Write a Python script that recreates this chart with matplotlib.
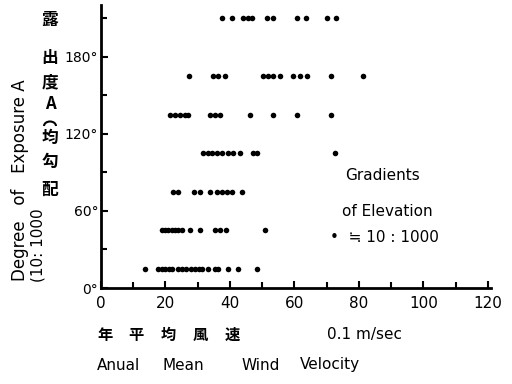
import numpy as np
import matplotlib
matplotlib.use("Agg")
import matplotlib.pyplot as plt
from matplotlib.patches import Arc
from matplotlib.ticker import MultipleLocator

plt.rcParams['font.family'] = ['DejaVu Sans', 'Noto Sans CJK JP']

# mean wind velocity (0.1 m/sec) for each exposure degree
exposure = [15, 45, 75, 105, 135, 165, 210]
velocity = [
    [13.7, 17.7, 18.9, 19.9, 21.1, 22.0, 23.9, 25.2, 26.4, 28.0, 29.2, 30.4,
     31.4, 33.2, 35.4, 36.3, 39.4, 42.5, 48.4],
    [18.9, 19.9, 20.8, 22.0, 23.0, 23.9, 25.2, 27.6, 30.7, 35.4, 37.0, 38.8,
     50.9],
    [22.4, 23.9, 28.9, 30.7, 33.9, 36.0, 37.6, 39.0, 40.6, 43.7],
    [31.8, 33.2, 34.5, 36.0, 37.6, 39.5, 41.0, 43.2, 47.2, 48.4, 72.7],
    [21.4, 23.0, 24.5, 26.0, 27.0, 33.9, 35.4, 37.0, 46.3, 53.4, 60.8, 71.4],
    [27.4, 34.8, 36.3, 38.5, 50.3, 51.9, 53.4, 55.6, 59.5, 61.8, 64.0, 71.4,
     81.4],
    [37.5, 40.6, 44.0, 45.6, 46.9, 51.5, 53.4, 60.8, 63.7, 70.0, 73.0],
]
xticks = [0, 20, 40, 60, 80, 100, 120]
yticks = [0, 60, 120, 180]
ytick_labels = ["0°", "60°", "120°", "180°"]

fig = plt.figure(figsize=(5.12, 3.84), dpi=100)
ax = fig.add_axes([101 / 512, 1 - 288 / 384, 390 / 512, 283 / 384])

for deg, vals in zip(exposure, velocity):
    ax.scatter(vals, [deg] * len(vals), s=16, color='black', linewidths=0)

ax.set_xlim(0, 121)
ax.set_ylim(0, 220.5)
for side in ['top', 'right']:
    ax.spines[side].set_visible(False)
for side in ['left', 'bottom']:
    ax.spines[side].set_linewidth(2)
ax.set_xticks(xticks)
ax.set_yticks(yticks)
ax.set_yticklabels(ytick_labels)
ax.xaxis.set_minor_locator(MultipleLocator(10))
ax.yaxis.set_minor_locator(MultipleLocator(30))
ax.tick_params(which='both', direction='in', width=1.5)
ax.tick_params(which='major', length=5)
ax.tick_params(which='minor', length=4)
ax.tick_params(axis='x', pad=6, labelsize=11)
ax.tick_params(axis='y', pad=2, labelsize=10)

# legend note
fig.text(345 / 512, 1 - 176 / 384, "Gradients", fontsize=11, va='center')
fig.text(342 / 512, 1 - 211 / 384, "of Elevation", fontsize=11, va='center')
fig.text(330 / 512, 1 - 237 / 384, "•  ≒ 10 : 1000", fontsize=11, va='center',
         family=['DejaVu Sans', 'Noto Sans CJK JP'])

# axis titles
fig.text(20 / 512, 1 - 180 / 384, "Degree   of   Exposure A", rotation=90,
         ha='center', va='center', fontsize=12)
fig.text(38 / 512, 1 - 245 / 384, "(10: 1000", rotation=90,
         ha='center', va='center', fontsize=11)
cjk = ["露", "出", "度", "A", "均", "勾", "配"]
cjk_y = [20, 58, 82, 104, 138, 162, 190]
for ch, yy in zip(cjk, cjk_y):
    fig.text(50 / 512, 1 - yy / 384, ch, ha='center', va='center',
             fontsize=12, fontweight='bold',
             family=['Noto Sans CJK JP', 'DejaVu Sans'])
# opening bracket of the vertical label, laid on its side
fig.add_artist(Arc((0.50, (384 - 126) / 100), 0.12, 0.09, theta1=0, theta2=180,
                   transform=fig.dpi_scale_trans, lw=1.5, color='black'))

for ch, xx in zip("年平均風速", [105, 136, 168, 200, 232]):
    fig.text(xx / 512, 1 - 335 / 384, ch, ha='center', va='center',
             fontsize=11, fontweight='bold',
             family=['Noto Sans CJK JP', 'DejaVu Sans'])
fig.text(327 / 512, 1 - 335 / 384, "0.1 m/sec", va='center', fontsize=11)
for word, xx in zip(["Anual", "Mean", "Wind", "Velocity"], [97, 163, 242, 300]):
    fig.text(xx / 512, 1 - 365 / 384, word, va='center', fontsize=11)

fig.savefig("out.png", dpi=100)
